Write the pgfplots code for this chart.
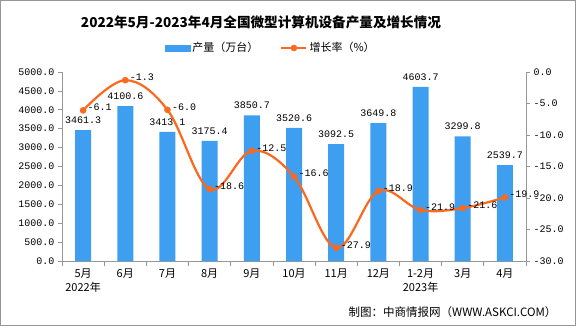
\documentclass[border=0pt]{standalone}
\usepackage{pgfplots}
\pgfplotsset{compat=1.18}
\usepackage{fontspec}
\setmainfont{Noto Sans CJK SC}
\newfontfamily\mono{Liberation Mono}
\definecolor{barblue}{RGB}{62,158,240}
\definecolor{lineorange}{RGB}{250,105,30}
\definecolor{axgray}{RGB}{150,150,150}
\pgfplotsset{mylineleg/.style={legend image code/.code={\draw[mark repeat=2,mark phase=2,##1] plot coordinates {(0bp,0bp) (12.5bp,0bp) (25bp,0bp)};}}}
\begin{document}
\begin{tikzpicture}[x=1bp,y=1bp]
\useasboundingbox (0,0) rectangle (576,326);
\fill[white] (0,0) rectangle (576,326);
\draw[axgray, line width=1bp] (0.5,0.5) rectangle (575.5,325.5);
\node[font=\bfseries\fontsize{13.6bp}{16bp}\selectfont] at (261,304) {2022年5月-2023年4月全国微型计算机设备产量及增长情况};
\node[font=\fontsize{11.5bp}{13bp}\selectfont, anchor=east] at (560,14) {制图：中商情报网（WWW.ASKCI.COM）};

\begin{axis}[
  at={(62bp,65bp)}, anchor=south west,
  scale only axis, width=464bp, height=189bp,
  xmin=-0.5, xmax=10.5, ymin=0, ymax=5000,
  clip=false,
  axis x line*=bottom, axis y line*=left,
  axis line style={axgray, line width=0.8bp},
  ytick={0,500,...,5000},
  xtick={0,...,10},
  xticklabels={5月\\2022年,6月,7月,8月,9月,10月,11月,12月,1-2月\\2023年,3月,4月},
  x tick label style={align=center, font=\fontsize{11bp}{14bp}\selectfont},
  major x tick style={draw=none},
  minor xtick={-0.5,0.5,...,10.5},
  minor x tick style={draw=axgray, line width=0.8bp},
  ytick style={draw=axgray, line width=0.8bp},
  y tick label style={font=\mono\fontsize{10bp}{12bp}\selectfont},
  tick align=outside,
  major tick length=4bp, minor tick length=5bp,
  /pgf/number format/fixed, /pgf/number format/fixed zerofill,
  /pgf/number format/precision=1, /pgf/number format/1000 sep={},
  /pgf/number format/assume math mode=true,
]
\addplot[ybar, bar width=16bp, fill=barblue, draw=none,
  nodes near coords,
  nodes near coords style={font=\mono\fontsize{10bp}{12bp}\selectfont, black, yshift=3bp}]
  coordinates {(0,3461.3) (1,4100.6) (2,3413.1) (3,3175.4) (4,3850.7) (5,3520.6) (6,3092.5) (7,3649.8) (8,4603.7) (9,3299.8) (10,2539.7)};
\end{axis}

\begin{axis}[
  at={(62bp,65bp)}, anchor=south west,
  scale only axis, width=464bp, height=189bp,
  xmin=-0.5, xmax=10.5, ymin=-30, ymax=0,
  clip=false,
  axis x line=none, axis y line*=right,
  axis line style={axgray, line width=0.8bp},
  ytick={-30,-25,...,0},
  ytick style={draw=axgray, line width=0.8bp},
  y tick label style={font=\mono\fontsize{10bp}{12bp}\selectfont},
  tick align=outside, major tick length=4bp,
  /pgf/number format/fixed, /pgf/number format/fixed zerofill,
  /pgf/number format/precision=1, /pgf/number format/1000 sep={},
  /pgf/number format/assume math mode=true,
  legend columns=2,
  legend style={draw=none, fill=none, at={(0.45,1.127)}, anchor=center,
    font=\fontsize{11bp}{13bp}\selectfont,
    /tikz/every even column/.append style={column sep=20bp}},
]
\addlegendimage{legend image code/.code={\fill[barblue] (0bp,-3bp) rectangle (25bp,3bp);}}
\addlegendentry{产量（万台）}
\addplot[lineorange, line width=2.2bp, smooth, tension=0.6, mark=*, mark size=3bp,
  mark options={fill=lineorange, draw=lineorange, line width=0.5bp},
  mylineleg,
  nodes near coords,
  nodes near coords style={font=\mono\fontsize{10bp}{12bp}\selectfont, black, anchor=west, xshift=1bp, yshift=3bp}]
  coordinates {(0,-6.1) (1,-1.3) (2,-6.0) (3,-18.6) (4,-12.5) (5,-16.6) (6,-27.9) (7,-18.9) (8,-21.9) (9,-21.6) (10,-19.9)};
\addlegendentry{增长率（\%）}
\end{axis}
\end{tikzpicture}
\end{document}
